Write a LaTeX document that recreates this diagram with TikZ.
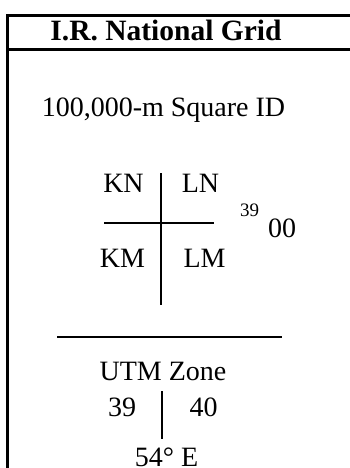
\documentclass[tikz,border=0pt]{standalone}
\usepackage{fontspec}
\setmainfont{Liberation Serif}
\begin{document}
\begin{tikzpicture}[x=1pt,y=-1pt,
  lbl/.style={inner sep=0pt,anchor=base,font=\fontsize{28}{30}\selectfont},
  ttl/.style={inner sep=0pt,anchor=base,font=\fontsize{29.5}{31}\selectfont\bfseries},
  sup/.style={inner sep=0pt,anchor=base,font=\fontsize{19}{21}\selectfont},
  frame/.style={line width=2.6pt},
  rule/.style={line width=2pt}]
\useasboundingbox (0,0) rectangle (350,468);
% frame
\draw[frame] (352,15.5) -- (7.5,15.5) -- (7.5,470);
\draw[frame] (7.5,49.5) -- (352,49.5);
% texts
\node[ttl] (title) at (166,41) {I.R. National Grid};
\node[lbl] (sqid) at (163.5,117) {100,000-m Square ID};
\node[lbl] (kn) at (123.5,192) {KN};
\node[lbl] (ln) at (200.5,192) {LN};
\node[lbl] (km) at (122.5,267) {KM};
\node[lbl] (lm) at (204.5,267) {LM};
\node[sup] (e39) at (249.5,216) {39};
\node[lbl] (e00) at (282,237) {00};
\node[lbl] (utm) at (163,380) {UTM Zone};
\node[lbl] (z39) at (122,416) {39};
\node[lbl] (z40) at (203.5,416) {40};
\node[lbl] (lon) at (166.5,466) {54° E};
% cross
\coordinate (vt) at (161,173);
\coordinate (vb) at (161,305);
\coordinate (hl) at (104,223);
\coordinate (hr) at (214,223);
\draw[rule] (vt) -- (vb);
\draw[rule] (hl) -- (hr);
% separator
\coordinate (sl) at (57,337);
\coordinate (sr) at (282,337);
\draw[rule] (sl) -- (sr);
% zone divider
\coordinate (zt) at (162,391);
\coordinate (zb) at (162,439);
\draw[rule] (zt) -- (zb);
\end{tikzpicture}
\end{document}
